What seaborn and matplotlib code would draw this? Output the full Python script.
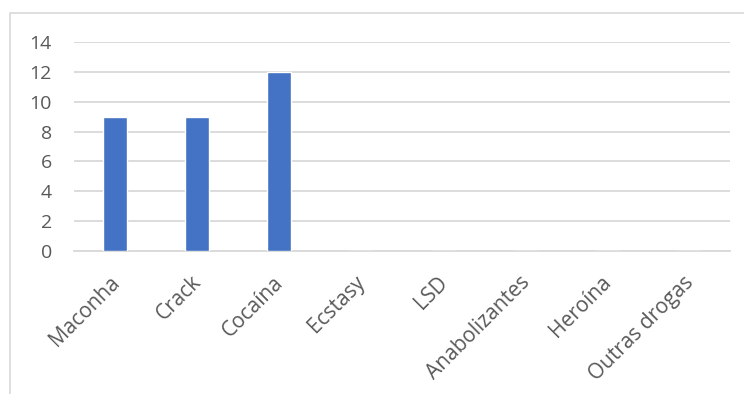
import matplotlib
matplotlib.use("Agg")
import matplotlib.pyplot as plt
from matplotlib.patches import Rectangle
from matplotlib.transforms import ScaledTranslation
import seaborn as sns
import pandas as pd

categories = ["Maconha", "Crack", "Cocaína", "Ecstasy", "LSD",
              "Anabolizantes", "Heroína", "Outras drogas"]
values = [9, 9, 12, 0, 0, 0, 0, 0]
y_ticks = [0, 2, 4, 6, 8, 10, 12, 14]

df = pd.DataFrame({"droga": categories, "n": values})

sns.set_theme(style="white")
plt.rcParams["font.family"] = ["Open Sans", "DejaVu Sans"]

W, H = 744, 394
fig = plt.figure(figsize=(W / 100, H / 100), dpi=100)
fig.patch.set_facecolor("white")

# chart area frame
fig.patches.append(Rectangle((10 / W, -0.05), 1.2, 1 - 13 / H + 0.05,
                             transform=fig.transFigure, fill=False,
                             edgecolor="#d9d9d9", linewidth=1.2))

ax = fig.add_axes([74 / W, 1 - 251 / H, (730 - 74) / W, (251 - 42) / H])
sns.barplot(data=df, x="droga", y="n", color="#4472C4", width=0.3,
            saturation=1, ax=ax, zorder=3)

ax.set_ylim(0, 14)
ax.set_yticks(y_ticks)
ax.set_xlim(-0.5, len(categories) - 0.5)
ax.set_xlabel("")
ax.set_ylabel("")
ax.yaxis.grid(True, color="#d9d9d9", linewidth=1.3, zorder=0)
ax.set_axisbelow(True)
for side in ["top", "right", "left"]:
    ax.spines[side].set_visible(False)
ax.spines["bottom"].set_color("#d9d9d9")
ax.spines["bottom"].set_linewidth(1.3)
ax.tick_params(axis="both", length=0, colors="#595959")
ax.tick_params(axis="y", pad=16, labelsize=14)
ax.tick_params(axis="x", pad=15, labelsize=15)
shift = ScaledTranslation(-0.06, 0, fig.dpi_scale_trans)
for lbl in ax.get_xticklabels():
    lbl.set_rotation(45)
    lbl.set_ha("right")
    lbl.set_rotation_mode("anchor")
    lbl.set_transform(lbl.get_transform() + shift)

fig.savefig("out.png", dpi=100)
